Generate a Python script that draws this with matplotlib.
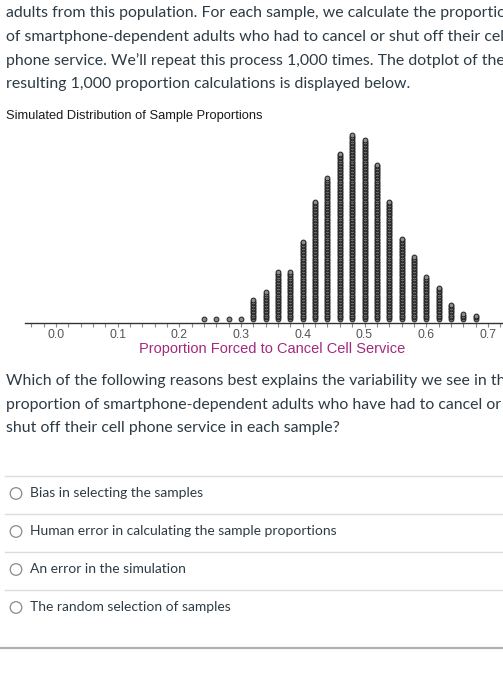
import numpy as np
import matplotlib
matplotlib.use("Agg")
import matplotlib.pyplot as plt
from matplotlib.patches import Circle

# dotplot data: sample proportion -> number of simulated samples
proportions = [0.24, 0.26, 0.28, 0.30, 0.32, 0.34, 0.36, 0.38, 0.40, 0.42, 0.44, 0.46,
               0.48, 0.50, 0.52, 0.54, 0.56, 0.58, 0.60, 0.62, 0.64, 0.66, 0.68]
counts = [1, 1, 1, 1, 13, 18, 31, 31, 51, 77, 92, 108,
          120, 117, 101, 77, 53, 41, 28, 21, 10, 4, 3]
tick_values = [0.0, 0.1, 0.2, 0.3, 0.4, 0.5, 0.6, 0.7]
tick_labels = ["0.0", "0.1", "0.2", "0.3", "0.4", "0.5", "0.6", "0.7"]

intro_lines = [
    "adults from this population. For each sample, we calculate the proportion",
    "of smartphone-dependent adults who had to cancel or shut off their cell",
    "phone service. We\u2019ll repeat this process 1,000 times. The dotplot of the",
    "resulting 1,000 proportion calculations is displayed below.",
]
question_lines = [
    "Which of the following reasons best explains the variability we see in the",
    "proportion of smartphone-dependent adults who have had to cancel or",
    "shut off their cell phone service in each sample?",
]
options = [
    "Bias in selecting the samples",
    "Human error in calculating the sample proportions",
    "An error in the simulation",
    "The random selection of samples",
]
chart_title = "Simulated Distribution of Sample Proportions"
x_label = "Proportion Forced to Cancel Cell Service"

W, H = 503, 676
TEXT = "#2d3b45"

fig = plt.figure(figsize=(W / 100, H / 100), dpi=100)
fig.patch.set_facecolor("white")

# page layer in pixel coordinates
page = fig.add_axes([0, 0, 1, 1])
page.set_xlim(0, W)
page.set_ylim(H, 0)
page.axis("off")

for i, line in enumerate(intro_lines):
    page.text(6, 13 + i * 23.7, line, family="Lato", fontsize=11.45,
              color=TEXT, va="center", ha="left")

page.text(6, 116, chart_title, family="Liberation Sans", fontsize=9.3,
          color="#1a1a1a", va="center", ha="left")

for i, line in enumerate(question_lines):
    page.text(6, 381 + i * 23.7, line, family="Lato", fontsize=11.45,
              color=TEXT, va="center", ha="left")

for i, opt in enumerate(options):
    yc = 493 + i * 38
    page.plot([5, W], [yc - 17, yc - 17], color="#dcdcdc", lw=1)
    page.add_patch(Circle((16, yc + 0.5), 5.8, facecolor="white",
                          edgecolor="#8a8a8a", lw=0.9))
    page.text(30, yc, opt, family="Lato", fontsize=10, color=TEXT,
              va="center", ha="left")
page.plot([0, W], [648, 648], color="#b0b0b0", lw=1.6)

# dotplot axes
px_per_unit = 617.0
x0_px = 56.0
axis_y = 323.0
top_y = 125.0
ax = fig.add_axes([0, (H - axis_y) / H, 1, (axis_y - top_y) / H])
ax.set_xlim(-x0_px / px_per_unit, (W - x0_px) / px_per_unit)

dot_step = 1.54
ax.set_ylim(-4.4 / dot_step, (axis_y - top_y - 4.4) / dot_step)

xs, ys = [], []
for p, n in zip(proportions, counts):
    xs.extend([p] * n)
    ys.extend(range(n))
ax.scatter(xs, ys, s=12, facecolor="#8c8c8c", edgecolor="#1e1e1e",
           linewidth=0.7, zorder=3, clip_on=False)

for s in ["left", "right", "top"]:
    ax.spines[s].set_visible(False)
ax.spines["bottom"].set_bounds(-0.05, (W - x0_px) / px_per_unit)
ax.spines["bottom"].set_color("#333333")
ax.spines["bottom"].set_linewidth(1.0)
ax.set_yticks([])
ax.set_xticks(tick_values)
ax.set_xticklabels(tick_labels, family="Liberation Sans", fontsize=8.8,
                   color="#555555")
ax.set_xticks(np.arange(-0.04, 0.73, 0.02), minor=True)
ax.tick_params(axis="x", which="both", direction="out", length=3,
               width=0.8, color="#888888", pad=1.5)
ax.set_facecolor("none")

page.text(272, 348.5, x_label, family="Liberation Sans", fontsize=10.5,
          color="#a3287f", va="center", ha="center")

fig.savefig("out.png", dpi=100, facecolor="white")
